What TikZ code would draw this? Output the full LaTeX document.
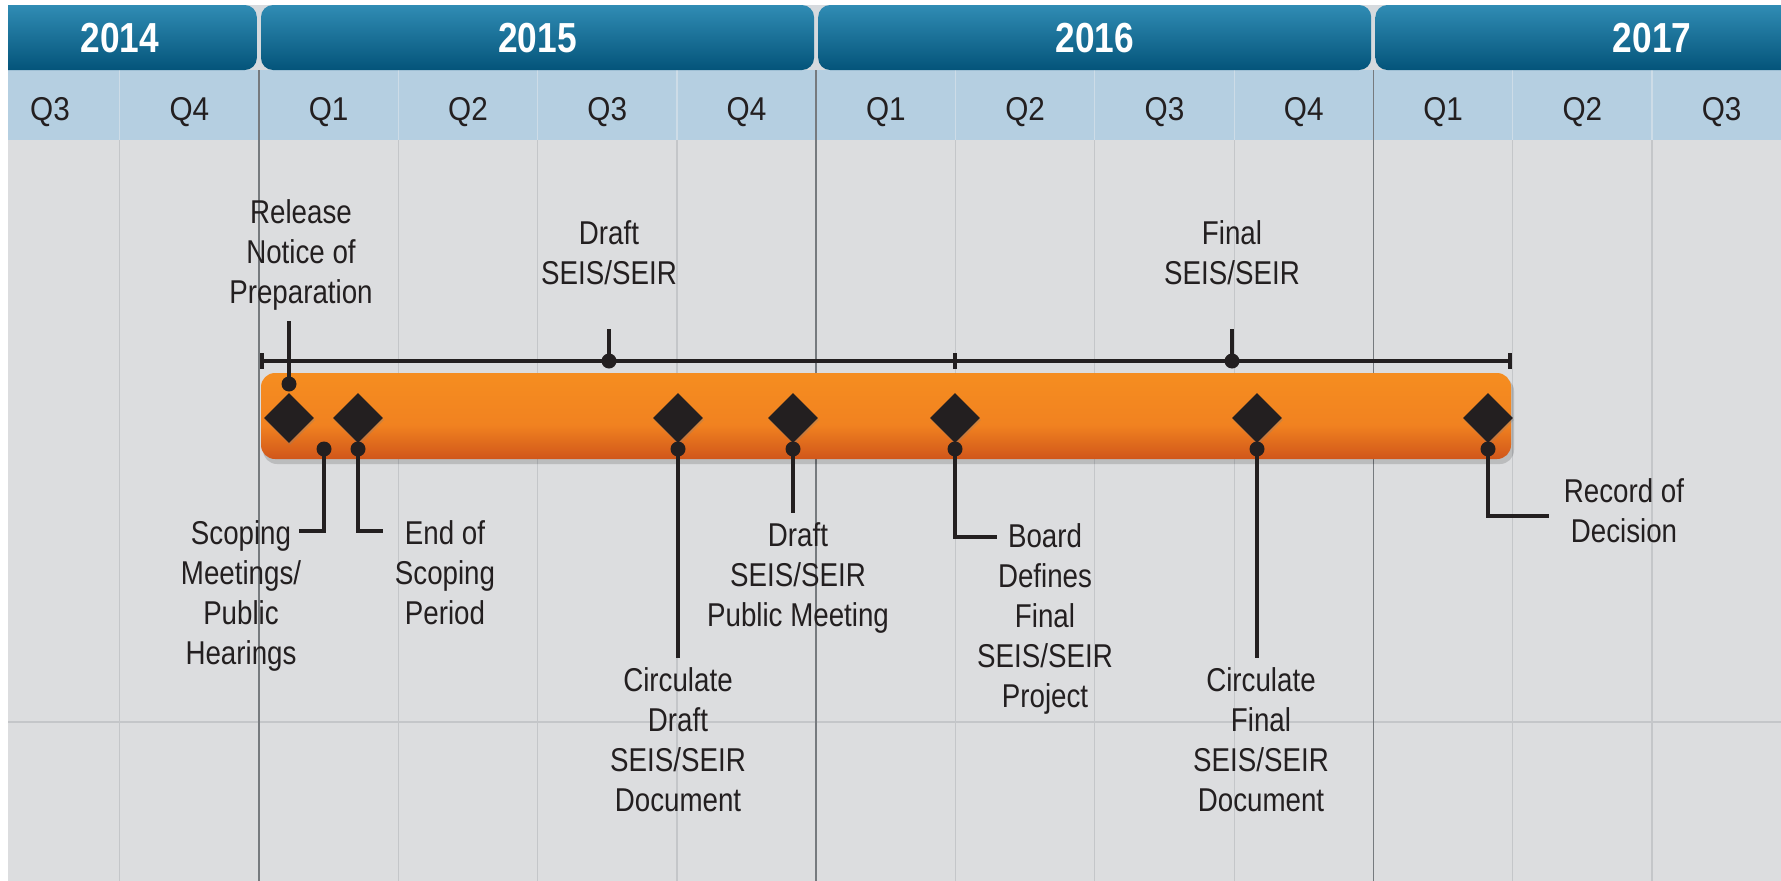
\documentclass[tikz,border=0pt]{standalone}
\usepackage{fontspec}
\setmainfont{Liberation Sans}[FakeStretch=0.84]
\newfontfamily\quarterfont{Liberation Sans}[FakeStretch=0.9]
\usepackage{xcolor}
\usepackage{tikz}
\usetikzlibrary{shapes.geometric}
\usetikzlibrary{shadows}
\usetikzlibrary{positioning}

\definecolor{yeartop}{RGB}{48,140,180}
\definecolor{yearbot}{RGB}{4,84,122}
\definecolor{gapgray}{RGB}{214,218,222}
\definecolor{qblue}{RGB}{181,207,225}
\definecolor{qline}{RGB}{205,220,231}
\definecolor{bodygray}{RGB}{220,221,223}
\definecolor{gridlight}{RGB}{196,198,201}
\definecolor{griddark}{RGB}{118,122,126}
\definecolor{ink}{RGB}{35,31,32}
\definecolor{bartop}{RGB}{248,148,32}
\definecolor{barmid}{RGB}{241,130,32}
\definecolor{barlow}{RGB}{208,86,26}
\definecolor{barbot}{RGB}{190,70,24}
\pgfdeclareverticalshading{barshade}{100bp}{color(0bp)=(barbot); color(25bp)=(barlow); color(45bp)=(barmid); color(92bp)=(bartop); color(100bp)=(bartop)}

\begin{document}
\begin{tikzpicture}[
	x=1pt, y=-1pt,
	yearband/.style = {
		rounded corners=12pt,
		top color=yeartop, bottom color=yearbot
	},
	yearlabel/.style = {
		anchor=base, text=white,
		font=\fontsize{42}{42}\selectfont\bfseries
	},
	qlabel/.style = {
		anchor=base, text=ink,
		font=\quarterfont\fontsize{33}{33}\selectfont
	},
	milestone/.style = {
		diamond, fill=ink,
		minimum size=50pt, inner sep=0pt,
		drop shadow={opacity=0.3, shadow xshift=1pt, shadow yshift=-2pt}
	},
	pin/.style = {
		circle, fill=ink,
		minimum size=15pt, inner sep=0pt
	},
	lead/.style = {
		draw=ink, line width=4pt
	},
	caption/.style = {
		anchor=base, align=center,
		inner sep=0pt, text=ink,
		font=\fontsize{33}{40}\selectfont
	}
]
	\useasboundingbox[fill=white] (0,0) rectangle (1781,881);
	\begin{scope}
		\clip (8,5) rectangle (1781,881);
		% Grid
		\fill[bodygray] (8,140) rectangle (1781,881);
		\fill[qblue] (8,70) rectangle (1781,140);
		\fill[gapgray] (8,5) rectangle (1781,70);
		\draw[gridlight, line width=1.5pt] (8,722) -- (1781,722);
		\foreach \k in {-1,...,10} {
			\draw[gridlight, line width=1.2pt] ({259+\k*139.3},140) -- ++(0,741);
			\draw[qline, line width=1.2pt] ({259+\k*139.3},70) -- ++(0,70);
		}
		\foreach \k in {0,4,8} {
			\draw[griddark, line width=1.5pt] ({259+\k*139.3},70) -- ++(0,811);
		}
		% Year bands
		\foreach \k in {-4,0,4,8} {
			\shade[yearband] ({259+\k*139.3+2},5) rectangle ++(553,65);
		}
		\foreach \x/\yr in {119.7/2014, 537.6/2015, 1094.8/2016, 1652/2017} {
			\node[yearlabel] (y\yr) at (\x,52) {\yr};
		}
		\foreach \q [count=\i] in {Q3,Q4,Q1,Q2,Q3,Q4,Q1,Q2,Q3,Q4,Q1,Q2,Q3} {
			\node[qlabel] (qlab\i) at ({259+(\i-3)*139.3+69.65},120) {\q};
		}
	\end{scope}
	% Range line
	\coordinate (rangeL) at (262,361);
	\coordinate (rangeM) at (955,361);
	\coordinate (rangeR) at (1510,361);
	\draw[lead, line width=3.5pt] (rangeL) -- (rangeR);
	\foreach \c in {rangeL,rangeM,rangeR} {
		\draw[lead, line width=3.5pt] ([yshift=8pt]\c) -- ([yshift=-8pt]\c);
	}
	% Bar
	\fill[black, opacity=0.15, rounded corners=14pt] (263,377) rectangle (1514,464);
	\shade[rounded corners=14pt, shading=barshade] (261,373) rectangle (1511,459);
	% Milestones
	\foreach \x [count=\i] in {289,358,678,793,955,1257,1488} {
		\node[milestone] (m\i) at (\x,418) {};
	}
	% Labels above (base = last line)
	\node[caption] (release) at (301,303) {Release\\Notice of\\Preparation};
	\node[caption] (draftdoc) at (609,284) {Draft\\SEIS/SEIR};
	\node[caption] (finaldoc) at (1232,284) {Final\\SEIS/SEIR};
	% Labels below
	\node[caption] (scoping) at (241,664) {Scoping\\Meetings/\\Public\\Hearings};
	\node[caption] (endscoping) at (445,624) {End of\\Scoping\\Period};
	\node[caption] (circdraft) at (678,811) {Circulate\\Draft\\SEIS/SEIR\\Document};
	\node[caption] (pubmeet) at (798,626) {Draft\\SEIS/SEIR\\Public Meeting};
	\node[caption] (board) at (1045,707) {Board\\Defines\\Final\\SEIS/SEIR\\Project};
	\node[caption] (circfinal) at (1261,811) {Circulate\\Final\\SEIS/SEIR\\Document};
	\node[caption] (record) at (1624,542) {Record of\\Decision};
	% Leader ends
	\coordinate (releaseEnd) at (289,321);
	\coordinate (draftEnd) at (609,329);
	\coordinate (finalEnd) at (1232,329);
	\coordinate (scopingEnd) at (299,531);
	\coordinate (endscopingEnd) at (383,531);
	\coordinate (circdraftEnd) at (678,658);
	\coordinate (pubmeetEnd) at (793,513);
	\coordinate (boardEnd) at (997,537);
	\coordinate (circfinalEnd) at (1257,658);
	\coordinate (recordEnd) at (1549,516);
	% Pins and leaders
	\node[pin] (relpin) at (289,384) {};
	\node[pin] (draftpin) at (609,361) {};
	\node[pin] (finalpin) at (1232,361) {};
	\node[pin] (p0) at (324,449) {};
	\foreach \i in {2,...,7} {
		\node[pin] (p\i) at (m\i.south |- p0) {};
	}
	\draw[lead] (relpin.center) -- (releaseEnd);
	\draw[lead] (draftpin.center) -- (draftEnd);
	\draw[lead] (finalpin.center) -- (finalEnd);
	\draw[lead] (p0.center) |- (scopingEnd);
	\draw[lead] (p2.center) |- (endscopingEnd);
	\draw[lead] (p3.center) -- (circdraftEnd);
	\draw[lead] (p4.center) -- (pubmeetEnd);
	\draw[lead] (p5.center) |- (boardEnd);
	\draw[lead] (p6.center) -- (circfinalEnd);
	\draw[lead] (p7.center) |- (recordEnd);
\end{tikzpicture}
\end{document}
